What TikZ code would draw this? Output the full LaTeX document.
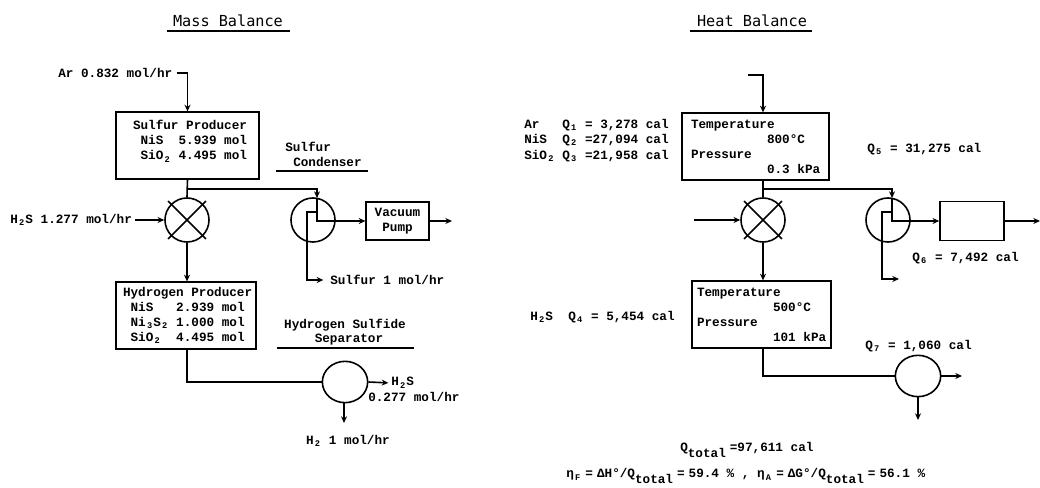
\documentclass[tikz,border=0pt]{standalone}
\usepackage{fontspec}
\setmainfont{Liberation Mono}[BoldFont={Liberation Mono Bold},WordSpace={1,0,0}]
\newfontfamily\titlefont{DejaVu Sans Mono}
\usetikzlibrary{arrows.meta,shapes.geometric}
\newcommand{\subs}[1]{\makebox[0.6em]{\raisebox{-0.2em}{\fontsize{6.5}{6.5}\selectfont #1}}}
\newcommand{\bigsub}[1]{\raisebox{-0.45em}{#1}}
\newcommand{\eqq}{\hspace{3pt}=\hspace{3pt}}
\newcommand{\pad}[1]{\hspace*{#1}}
\tikzset{
  x=0.75pt,y=-0.75pt,
  flow/.style={line width=1.2pt,line join=miter},
  arr/.style={flow,-{Stealth[length=5pt,width=4.5pt]}},
  lbl/.style={inner sep=0pt,anchor=west,font=\bfseries\fontsize{9.5}{11.25}\selectfont},
  ttl/.style={inner sep=0pt,font=\titlefont\fontsize{11.4}{13}\selectfont},
  box/.style={draw,line width=1.2pt,inner sep=0pt,align=flush left,anchor=center,font=\bfseries\fontsize{9.5}{11.25}\selectfont},
  unit/.style={draw,circle,line width=1.2pt,minimum size=33pt,inner sep=0pt},
  sep/.style={draw,ellipse,line width=1.2pt,minimum width=34pt,minimum height=31pt,inner sep=0pt},
  rule/.style={line width=1.2pt}
}
\begin{document}
\begin{tikzpicture}
\useasboundingbox[fill=white] (0,0) rectangle (1040,488);
% ---------- Mass balance ----------
\node[ttl] (t1) at (228,21) {Mass Balance};
\draw[rule] (167,31) -- (290,31);
\node[lbl] (ar) at (58,73) {Ar 0.832 mol/hr};
\node[box,text width=107.25pt,minimum height=50pt] (sp) at (187.5,145.5) {\pad{12.75pt}Sulfur Producer\\\pad{12.75pt}~NiS~~5.939 mol\\\pad{12.75pt}~SiO\subs{2} 4.495 mol\rule[-8pt]{0pt}{8pt}};
\node[lbl] (h2s) at (10,220) {H\subs{2}S 1.277 mol/hr};
\node[unit] (mx1) at (187,220) {};
\draw[flow,shorten <=-3pt,shorten >=-3pt] (mx1.south west) -- (mx1.north east);
\draw[flow,shorten <=-3pt,shorten >=-3pt] (mx1.north west) -- (mx1.south east);
\node[unit] (c1) at (313,220) {};
\node[box,text width=47pt,minimum height=28.5pt,align=flush center] (vp) at (397.5,221) {Vacuum\\Pump};
\coordinate (j1) at (187,189);
\coordinate (c1t) at (317,198);
\coordinate (c1i) at (317,212);
\coordinate (c1b) at (307,212);
\node[lbl] (su) at (330,280) {Sulfur 1 mol/hr};
\coordinate (vo) at (452,221);
\node[lbl] (sc1) at (285,147) {Sulfur};
\node[lbl] (sc2) at (293,162) {Condenser};
\draw[rule] (276,171) -- (368,171);
\node[box,text width=105pt,minimum height=50pt] (hp) at (186,315.5) {\pad{5.25pt}Hydrogen Producer\\\pad{5.25pt}~NiS~~~2.939 mol\\\pad{5.25pt}~Ni\subs{3}S\subs{2} 1.000 mol\\\pad{5.25pt}~SiO\subs{2}~~4.495 mol};
\node[lbl,anchor=center] (hs1) at (345,325) {Hydrogen Sulfide};
\node[lbl,anchor=center] (hs2) at (349,340) {Separator};
\draw[rule] (277,348) -- (414,348);
\node[sep] (s1) at (345,382) {};
\node[lbl] (s1a) at (391,383) {H\subs{2}S};
\node[lbl] (s1b) at (368,397) {0.277 mol/hr};
\coordinate (s1d) at (344,423);
\node[lbl,anchor=center] (s1c) at (348,441) {H\subs{2} 1 mol/hr};
\draw[arr,shorten <=3pt] (ar.east) -| (sp.north);
\draw[flow] (sp.south) -- (mx1.north);
\draw[arr,shorten <=2pt] (h2s.east) -- (mx1.west);
\draw[arr] (mx1.south) -- (hp.north -| mx1.south);
\draw[arr] (j1) -| (c1t);
\draw[arr] (c1i |- c1t) |- (vp.west);
\draw[arr,shorten >=5pt] (c1i) -- (c1b) |- (su.west);
\draw[arr] (vp.east) -- (vo);
\draw[flow] (hp.south -| mx1.south) |- (s1.west);
\draw[arr,shorten >=2pt] (s1.east) -- (s1a.west);
\draw[arr] (s1.south -| s1d) -- (s1d);
% ---------- Heat balance ----------
\node[ttl] (t2) at (752,21) {Heat Balance};
\draw[rule] (690,31) -- (812,31);
\coordinate (hi) at (748,75);
\node[box,text width=110.25pt,minimum height=50pt] (b3) at (755.5,146.5) {\pad{6.75pt}Temperature\\\pad{6.75pt}~~~~~~~~~~800°C\\\pad{6.75pt}Pressure\\\pad{6.75pt}~~~~~~~~~~0.3 kPa};
\node[lbl] (q1) at (524,125) {Ar~~~Q\subs{1} = 3,278 cal};
\node[lbl] (q2) at (524,140) {NiS~~Q\subs{2} =27,094 cal};
\node[lbl] (q3) at (524,156) {SiO\subs{2} Q\subs{3} =21,958 cal};
\node[lbl] (q5) at (867,149) {Q\subs{5} = 31,275 cal};
\coordinate (mi) at (694,220);
\node[unit] (mx2) at (763,220) {};
\draw[flow,shorten <=-3pt,shorten >=-3pt] (mx2.south west) -- (mx2.north east);
\draw[flow,shorten <=-3pt,shorten >=-3pt] (mx2.north west) -- (mx2.south east);
\node[unit] (c2) at (888,220) {};
\node[draw,line width=1.2pt,minimum width=48pt,minimum height=29pt,inner sep=0pt] (vb) at (972,221) {};
\coordinate (j2) at (763,189);
\coordinate (c2t) at (892,198);
\coordinate (c2i) at (892,212);
\coordinate (c2b) at (882,212);
\coordinate (c2o) at (899,279);
\coordinate (vbo) at (1040,221);
\node[lbl] (q6) at (912,258) {Q\subs{6} = 7,492 cal};
\node[box,text width=104.25pt,minimum height=50pt] (b4) at (761.5,314.5) {\pad{3.75pt}Temperature\\\pad{3.75pt}~~~~~~~~~~500°C\\\pad{3.75pt}Pressure\\\pad{3.75pt}~~~~~~~~~~101 kPa};
\node[lbl] (q4) at (530,317) {H\subs{2}S~~Q\subs{4} = 5,454 cal};
\node[lbl] (q7) at (865,346) {Q\subs{7} = 1,060 cal};
\node[sep] (s2) at (918,376) {};
\coordinate (s2o) at (962,376);
\coordinate (s2d) at (918,420);
\node[lbl] (qt) at (680,450) {Q\bigsub{total}\hspace{3pt}=97,611 cal};
\node[lbl] (eta) at (566,476) {η\subs{F}\eqq ΔH°/Q\bigsub{total}\eqq 59.4 \% , η\subs{A}\eqq ΔG°/Q\bigsub{total}\eqq 56.1 \%};
\draw[arr] (hi) -| (b3.north -| mx2.north);
\draw[flow] (b3.south -| mx2.north) -- (mx2.north);
\draw[arr] (mi) -- (mx2.west);
\draw[arr] (mx2.south) -- (b4.north -| mx2.south);
\draw[arr] (j2) -| (c2t);
\draw[arr] (c2t) |- (vb.west);
\draw[arr] (c2i) -- (c2b) |- (c2o);
\draw[arr] (vb.east) -- (vbo);
\draw[flow] (b4.south -| mx2.south) |- (s2.west);
\draw[arr] (s2.east) -- (s2o);
\draw[arr] (s2.south) -- (s2d);
\end{tikzpicture}
\end{document}
